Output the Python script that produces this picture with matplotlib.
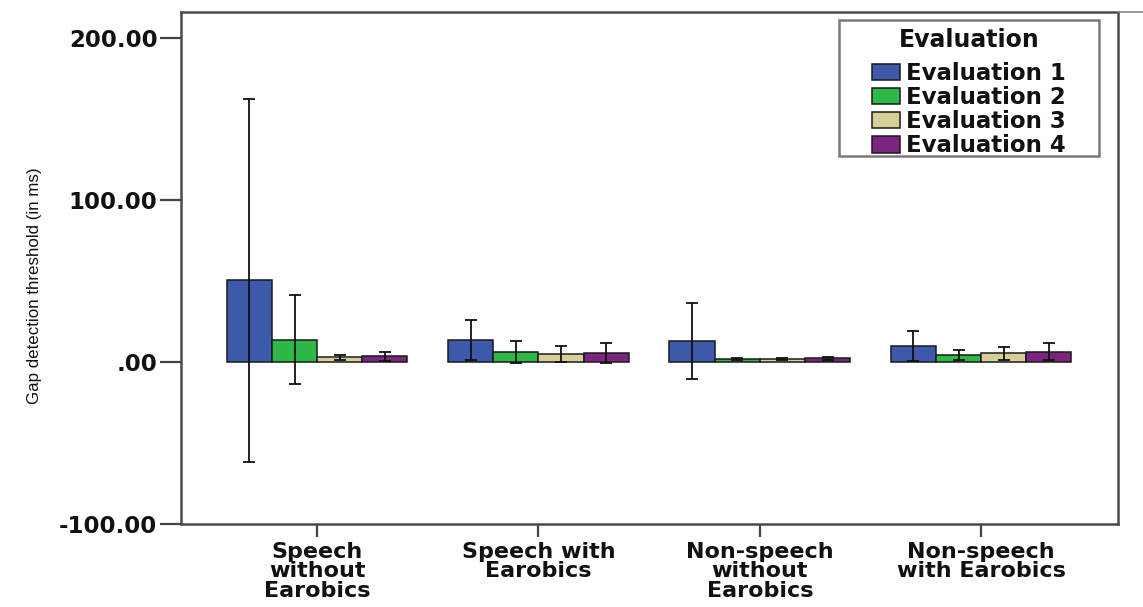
import matplotlib
matplotlib.use("Agg")
import matplotlib.pyplot as plt
from matplotlib.lines import Line2D
from matplotlib.patches import Rectangle
import numpy as np

# Group labels along the x axis
categories = ["Speech\nwithout\nEarobics", "Speech with\nEarobics",
              "Non-speech\nwithout\nEarobics", "Non-speech\nwith Earobics"]
series_names = ["Evaluation 1", "Evaluation 2", "Evaluation 3", "Evaluation 4"]
legend_title = "Evaluation"

# Mean gap detection threshold (ms) per evaluation, one value per group
eval1_mean = [50.4, 13.6, 12.9, 9.9]
eval2_mean = [13.7, 6.1, 1.8, 4.2]
eval3_mean = [2.8, 4.9, 1.9, 5.2]
eval4_mean = [3.5, 5.4, 2.3, 6.3]

# Error bar half-widths (ms)
eval1_err = [111.9, 12.5, 23.4, 9.3]
eval2_err = [27.4, 6.9, 0.5, 3.0]
eval3_err = [1.5, 4.9, 0.6, 4.0]
eval4_err = [2.8, 6.3, 1.0, 5.4]

ytick_values = [-100, 0, 100, 200]
ytick_labels = ["-100.00", ".00", "100.00", "200.00"]

colors = ["#3E58AC", "#2EB848", "#D6D098", "#7C2580"]
means = [eval1_mean, eval2_mean, eval3_mean, eval4_mean]
errs = [eval1_err, eval2_err, eval3_err, eval4_err]

W, H = 1143, 607
fig = plt.figure(figsize=(W / 100, H / 100), dpi=100)
ax = fig.add_axes([181 / W, 1 - 524 / H, (1117.7 - 181) / W, (524 - 12) / H])

bold_font = "DejaVu Sans"
x = np.arange(len(categories))
bw = 0.204
for i, (m, e, c, name) in enumerate(zip(means, errs, colors, series_names)):
    pos = x + (i - 1.5) * bw
    ax.bar(pos, m, width=bw, color=c, edgecolor="#1a1a1a", linewidth=1.1,
           label=name, zorder=2)
    ax.errorbar(pos, m, yerr=e, fmt="none", ecolor="#111111", elinewidth=1.3,
                capsize=4.3, capthick=1.3, zorder=3)

ax.set_xlim(-0.615, 3.617)
ax.set_ylim(-100, 215.8)

ax.set_yticks(ytick_values)
ax.set_yticklabels(ytick_labels, fontfamily=bold_font, fontweight="bold",
                   fontsize=16.5, color="#111111")
ax.set_xticks(x)
ax.set_xticklabels(categories, fontfamily=bold_font, fontweight="bold",
                   fontsize=16, color="#111111", linespacing=0.96, va="top")

ax.tick_params(axis="y", length=15, width=1.6, color="#444444", pad=2)
ax.tick_params(axis="x", length=9, width=1.6, color="#444444", pad=4)

for side in ["left", "right", "top", "bottom"]:
    ax.spines[side].set_color("#4a4a4a")
    ax.spines[side].set_linewidth(1.8)

ax.set_ylabel("Gap detection threshold (in ms)", family="Liberation Sans",
              fontsize=12.2, color="#111111")
ax.yaxis.set_label_coords(-0.148, 0.465)

# Legend entries, with its frame and heading drawn separately
leg = ax.legend(loc="upper left", bbox_to_anchor=(872 / W, 1 - 62 / H),
                bbox_transform=fig.transFigure, borderaxespad=0, borderpad=0,
                prop={"family": bold_font, "weight": "bold", "size": 16.5},
                handlelength=1.2, handleheight=0.72, handletextpad=0.3,
                labelspacing=0.05, frameon=False)
for t in leg.get_texts():
    t.set_color("#111111")

fig.add_artist(Rectangle((839 / W, 1 - 156 / H), (1099 - 839) / W,
                         (156 - 20) / H, transform=fig.transFigure,
                         fill=False, edgecolor="#7a7a7a", linewidth=1.8,
                         zorder=4))
fig.text(969 / W, 1 - 40 / H, legend_title, family=bold_font,
         fontweight="bold", fontsize=17, color="#111111",
         ha="center", va="center")

# Thin continuation of the top border past the frame
fig.add_artist(Line2D([1117.7 / W, 1.0], [1 - 12 / H, 1 - 12 / H],
                      transform=fig.transFigure, color="#888888", linewidth=1.2))

fig.savefig("out.png", dpi=100)
